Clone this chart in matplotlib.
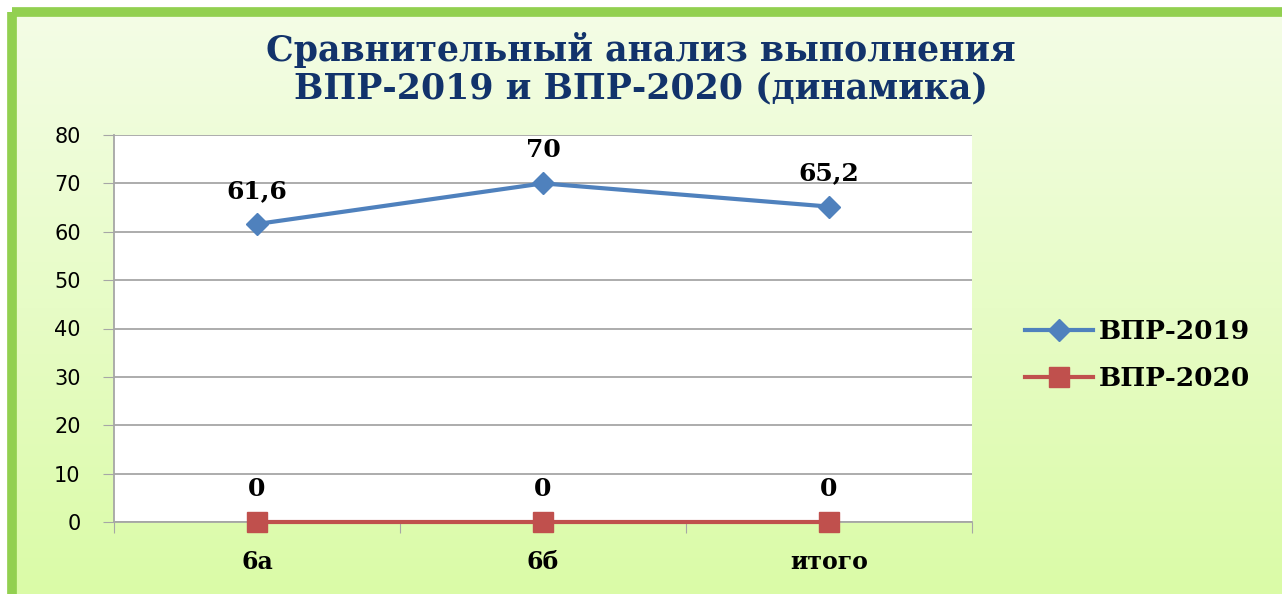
import numpy as np
import matplotlib
matplotlib.use("Agg")
import matplotlib.pyplot as plt
from matplotlib.patches import Rectangle

categories = ["6а", "6б", "итого"]
vpr_2019 = [61.6, 70, 65.2]
vpr_2020 = [0, 0, 0]
labels_2019 = ["61,6", "70", "65,2"]
labels_2020 = ["0", "0", "0"]
y_ticks = [0, 10, 20, 30, 40, 50, 60, 70, 80]

W, H = 1282, 594
fig = plt.figure(figsize=(W / 100, H / 100), dpi=100)
fig.patch.set_facecolor("white")

# background: green frame with vertical gradient
bg = fig.add_axes([0, 0, 1, 1])
bg.set_xlim(0, W)
bg.set_ylim(H, 0)
bg.axis("off")
top = np.array([244, 253, 230]) / 255
bot = np.array([218, 251, 166]) / 255
t = np.linspace(0, 1, 256)[:, None]
grad = (top * (1 - t) + bot * t)[:, None, :]
grad = np.repeat(grad, 2, axis=1)
bg.imshow(grad, extent=[12, W + 10, H + 10, 12], aspect="auto", zorder=0)
bg.add_patch(Rectangle((12, 12), W, H, fill=False, edgecolor="#92D050", linewidth=7, zorder=1))

serif = ["DejaVu Serif"]
title_color = "#12336B"
fig.text(0.5, 1 - 50 / H, "Сравнительный анализ выполнения", ha="center", va="center",
         fontsize=25, fontweight="bold", family=serif, color=title_color)
fig.text(0.5, 1 - 88 / H, "ВПР-2019 и ВПР-2020 (динамика)", ha="center", va="center",
         fontsize=25, fontweight="bold", family=serif, color=title_color)

ax = fig.add_axes([114 / W, (H - 522) / H, 858 / W, (522 - 135) / H])
ax.set_facecolor("white")
x = np.arange(len(categories))
ax.set_xlim(-0.5, len(categories) - 0.5)
ax.set_ylim(0, 80)

line1, = ax.plot(x, vpr_2019, color="#4F81BD", lw=3, marker="D", ms=11,
                 clip_on=False, zorder=4, label="ВПР-2019")
line2, = ax.plot(x, vpr_2020, color="#C0504D", lw=3, marker="s", ms=15,
                 clip_on=False, zorder=4, label="ВПР-2020")

for xi, v, s in zip(x, vpr_2019, labels_2019):
    ax.annotate(s, (xi, v), xytext=(0, 24), textcoords="offset points", ha="center", va="center",
                fontsize=18, fontweight="bold", family=serif, color="black")
for xi, v, s in zip(x, vpr_2020, labels_2020):
    ax.annotate(s, (xi, v), xytext=(0, 24), textcoords="offset points", ha="center", va="center",
                fontsize=18, fontweight="bold", family=serif, color="black")

ax.set_yticks(y_ticks)
ax.set_yticklabels([str(v) for v in y_ticks], fontsize=15, family="DejaVu Sans")
ax.yaxis.grid(True, color="#A6A6A6", lw=1.3)
ax.set_axisbelow(True)
ax.tick_params(axis="y", length=8, color="#A6A6A6", pad=16)

ax.set_xticks(np.arange(-0.5, len(categories), 1), minor=False)
ax.set_xticklabels([])
ax.set_xticks(x, minor=True)
ax.set_xticklabels(categories, minor=True, fontsize=17, fontweight="bold", family=serif)
ax.tick_params(axis="x", which="minor", length=0, pad=20)
ax.tick_params(axis="x", which="major", length=8, color="#A6A6A6", direction="out")

for side in ["top", "right"]:
    ax.spines[side].set_visible(False)
ax.spines["left"].set_color("#A6A6A6")
ax.spines["bottom"].set_color("#A6A6A6")
ax.spines["left"].set_linewidth(1.3)
ax.spines["bottom"].set_linewidth(1.3)

fig.legend(handles=[line1, line2], loc="center left", bbox_to_anchor=(1001 / W, 1 - 355 / H),
           frameon=False, prop={"family": serif, "weight": "bold", "size": 19},
           handlelength=2.6, handletextpad=0.2, labelspacing=0.85)

fig.savefig("out.png", dpi=100)
